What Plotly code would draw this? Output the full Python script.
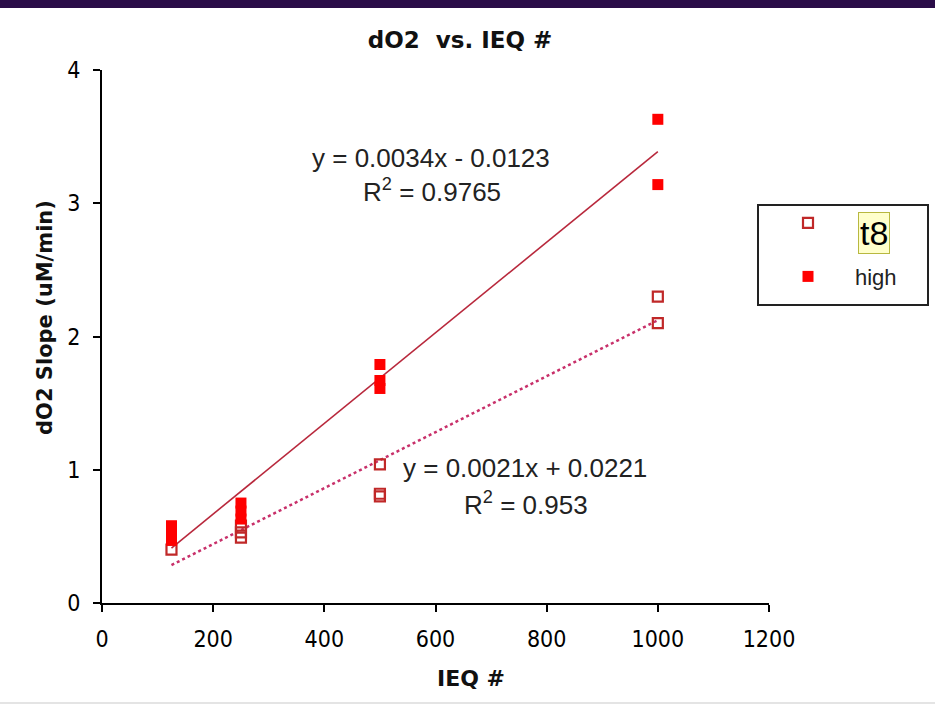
import plotly.graph_objects as go

# ---- data ----
x_high = [125, 125, 125, 250, 250, 250, 500, 500, 500, 1000, 1000]
y_high = [0.58, 0.52, 0.47, 0.75, 0.69, 0.63, 1.79, 1.67, 1.61, 3.63, 3.14]
x_t8 = [125, 250, 250, 250, 500, 500, 500, 1000, 1000]
y_t8 = [0.40, 0.58, 0.53, 0.49, 1.04, 0.82, 0.80, 2.30, 2.10]
fit_x = [125, 1000]
high_slope, high_int = 0.0034, -0.0123
t8_slope, t8_int = 0.0021, 0.0221
eq_high = ["y = 0.0034x - 0.0123", "R<sup>2</sup> = 0.9765"]
eq_t8 = ["y = 0.0021x + 0.0221", "R<sup>2</sup> = 0.953"]
x_ticks = [0, 200, 400, 600, 800, 1000, 1200]
y_ticks = [0, 1, 2, 3, 4]

W, H = 935, 708
L, R, T, B = 102, 769, 70, 603


def px(xp):
    return (xp - L) / (R - L)


def py(yp):
    return (B - yp) / (B - T)


fig = go.Figure()
fig.add_trace(go.Scatter(
    x=fit_x, y=[t8_slope * v + t8_int for v in fit_x], mode="lines",
    line=dict(color="#c8306a", width=2.5, dash="dot"), showlegend=False, hoverinfo="skip"))
fig.add_trace(go.Scatter(
    x=fit_x, y=[high_slope * v + high_int for v in fit_x], mode="lines",
    line=dict(color="#b8283c", width=1.6), showlegend=False, hoverinfo="skip"))
fig.add_trace(go.Scatter(
    x=x_t8, y=y_t8, mode="markers", name=" ", legendgroup="a",
    marker=dict(symbol="square-open", size=10, color="#c02828", line=dict(width=2.2, color="#c02828"))))
fig.add_trace(go.Scatter(
    x=x_high, y=y_high, mode="markers", name="high", legendgroup="b",
    marker=dict(symbol="square", size=11, color="#ff0000")))

tickfont = dict(family="DejaVu Sans Condensed, Liberation Sans", size=23, color="#000")
fig.update_xaxes(range=[0, 1200], tickvals=x_ticks, showgrid=False, zeroline=False,
                 showline=True, linecolor="black", linewidth=2, ticks="outside",
                 ticklen=7, tickwidth=2, tickcolor="black", tickfont=tickfont,
                 ticklabelstandoff=7)
fig.update_yaxes(range=[0, 4], tickvals=y_ticks, showgrid=False, zeroline=False,
                 showline=True, linecolor="black", linewidth=2, ticks="outside",
                 ticklen=7, tickwidth=2, tickcolor="black", tickfont=tickfont,
                 ticklabelstandoff=8)

ann_font = dict(family="Liberation Sans", size=26, color="#222")


def pann(xp, yp, text, font, **kw):
    return dict(x=px(xp), y=py(yp), xref="paper", yref="paper", text=text, showarrow=False,
                xanchor="center", yanchor="middle", font=font, **kw)


annotations = [
    pann(431, 158, eq_high[0], ann_font),
    pann(432, 190, eq_high[1], ann_font),
    pann(525, 468, eq_t8[0], ann_font),
    pann(526, 503, eq_t8[1], ann_font),
    pann(874, 233, "t8", dict(family="Liberation Sans", size=34, color="black"),
         bgcolor="#ffffcc", bordercolor="#b8b840", borderwidth=1, borderpad=1),
    pann(471, 678, "<b>IEQ #</b>", dict(family="DejaVu Sans", size=22, color="#111")),
    pann(45, 318, "<b>dO2 Slope (uM/min)</b>", dict(family="DejaVu Sans", size=21, color="#111"),
         textangle=-90),
]

shapes = [
    dict(type="rect", xref="paper", yref="paper", x0=px(0), x1=px(W), y0=py(0), y1=py(8),
         fillcolor="#2a0c48", line=dict(width=0), layer="below"),
    dict(type="rect", xref="paper", yref="paper", x0=px(758), x1=px(928), y0=py(305), y1=py(205),
         fillcolor="rgba(0,0,0,0)", line=dict(color="#222", width=2)),
    dict(type="line", xref="paper", yref="paper", x0=px(0), x1=px(W), y0=py(703), y1=py(703),
         line=dict(color="#e4e4e4", width=2)),
]

fig.update_layout(
    width=W, height=H,
    margin=dict(l=L, r=W - R, t=T, b=H - B),
    paper_bgcolor="white", plot_bgcolor="white",
    title=dict(text="<b>dO2  vs. IEQ #</b>", x=460 / W, xanchor="center", y=1 - 40 / H, yanchor="middle",
               font=dict(family="DejaVu Sans", size=23, color="#111")),
    legend=dict(x=px(761), y=py(202), xanchor="left", yanchor="top", bgcolor="rgba(0,0,0,0)",
                font=dict(family="Liberation Sans", size=22, color="#222"), tracegroupgap=22,
                itemwidth=84),
    annotations=annotations, shapes=shapes,
)

fig.write_html("out.html", config={"displayModeBar": False},
               post_script="document.body.style.margin='0';")
